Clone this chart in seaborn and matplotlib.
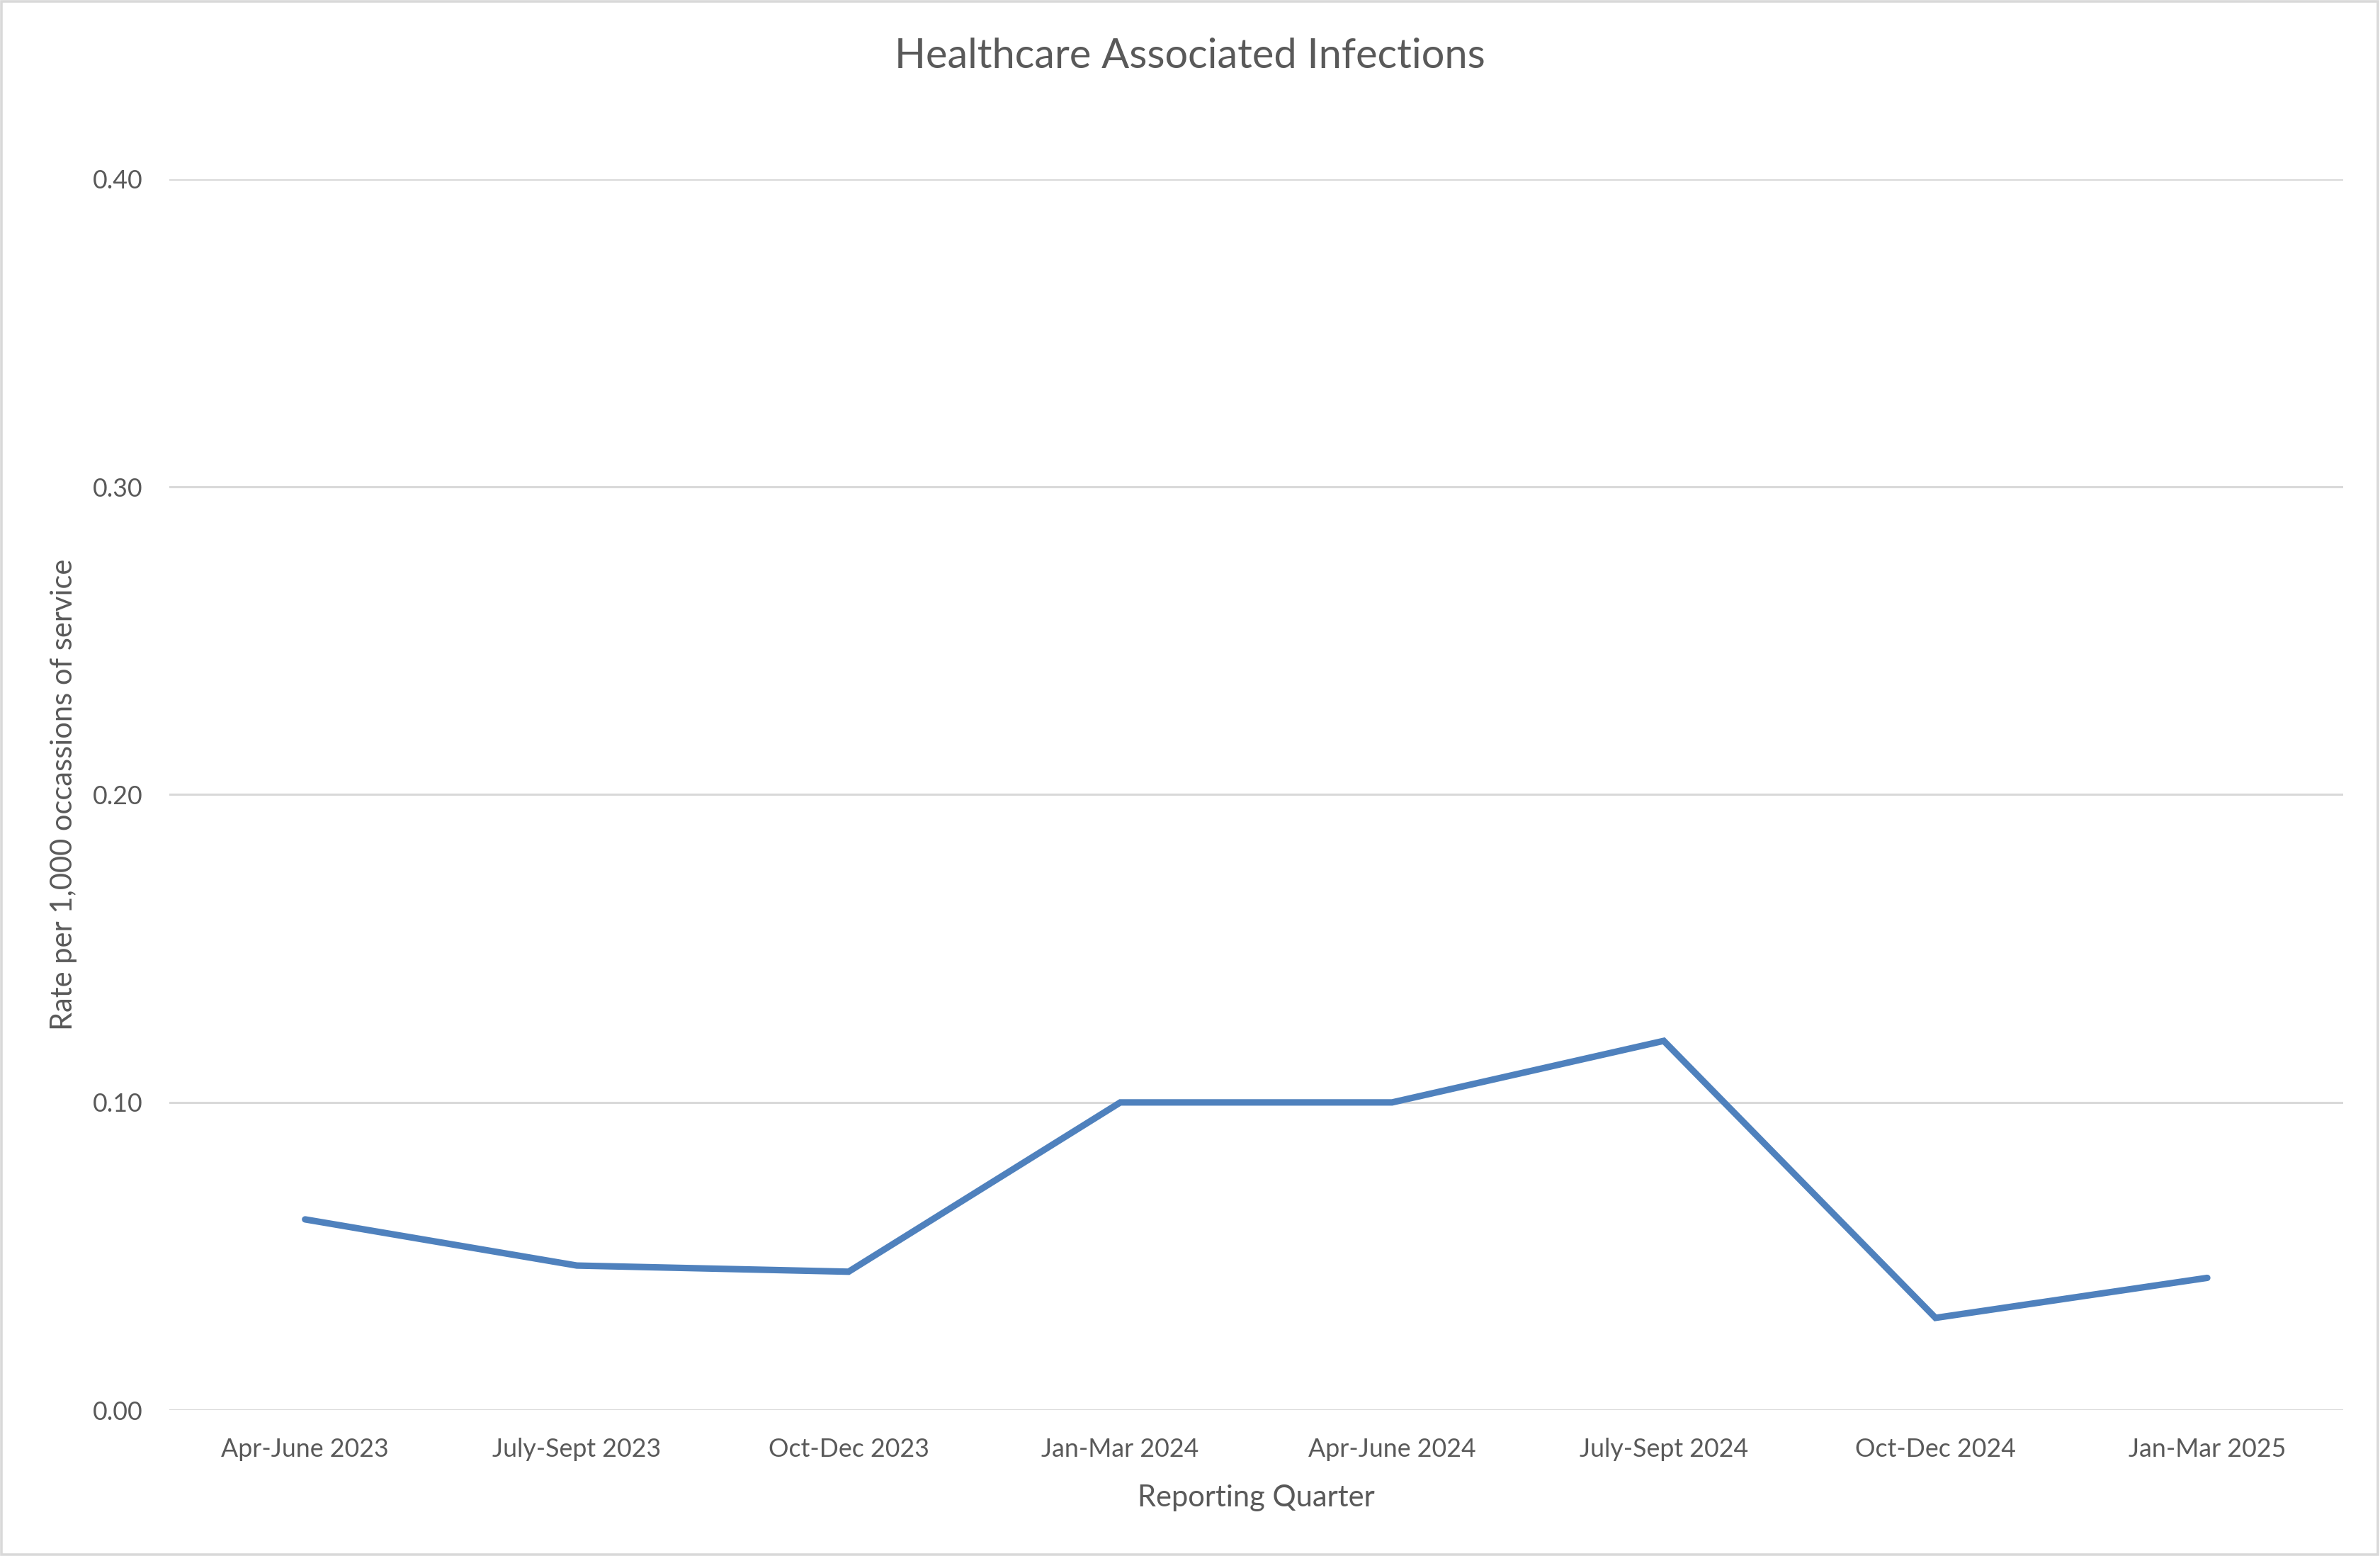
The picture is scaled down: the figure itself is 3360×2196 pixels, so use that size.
import pandas as pd
import seaborn as sns
from matplotlib import pyplot as plt
from matplotlib.patches import Rectangle

quarters = ["Apr-June 2023", "July-Sept 2023", "Oct-Dec 2023", "Jan-Mar 2024",
            "Apr-June 2024", "July-Sept 2024", "Oct-Dec 2024", "Jan-Mar 2025"]
rates = [0.062, 0.047, 0.045, 0.100, 0.100, 0.120, 0.030, 0.043]
yticks = [0.0, 0.1, 0.2, 0.3, 0.4]

df = pd.DataFrame({"quarter": quarters, "rate": rates})

sns.set_theme(style="white")
plt.rcParams['font.family'] = ['Lato', 'DejaVu Sans']
txt = "#595959"
grid = "#D9D9D9"

fig = plt.figure(figsize=(16.8, 10.98), dpi=200)
ax = fig.add_axes([0.0711, 0.0937, 0.9845 - 0.0711, 0.8849 - 0.0937])

sns.lineplot(data=df, x="quarter", y="rate", sort=False, color="#4F81BD",
             linewidth=3.3, solid_joinstyle="miter", solid_capstyle="round", ax=ax)

ax.set_xlim(-0.5, len(quarters) - 0.5)
ax.set_ylim(0, 0.4)
ax.set_yticks(yticks)
ax.set_yticklabels([f"{v:.2f}" for v in yticks])
ax.yaxis.grid(True, color=grid, linewidth=1.1)
ax.set_axisbelow(True)
for s in ax.spines.values():
    s.set_visible(False)
ax.axhline(0, color=grid, linewidth=1.1, zorder=0)

ax.tick_params(axis="both", length=0, labelsize=12.9, colors=txt)
ax.tick_params(axis="x", pad=14)
ax.tick_params(axis="y", pad=13.5)

ax.set_xlabel("Reporting Quarter", fontsize=15, color=txt)
ax.set_ylabel("Rate per 1,000 occassions of service", fontsize=15, color=txt)
ax.xaxis.set_label_coords(0.5, -0.0715)
ax.yaxis.set_label_coords(-0.0485, 0.5)
ax.xaxis.label.set_va("center")
ax.yaxis.label.set_va("center")

fig.text(0.5, 1 - 80 / 2196, "Healthcare Associated Infections", ha="center", va="center",
         fontsize=20.8, color=txt)

fig.patches.append(Rectangle((0.0006, 0.001), 0.9985, 0.998, transform=fig.transFigure,
                             fill=False, edgecolor=grid, linewidth=1.3))

fig.savefig("out.png", dpi=200, facecolor="white")
